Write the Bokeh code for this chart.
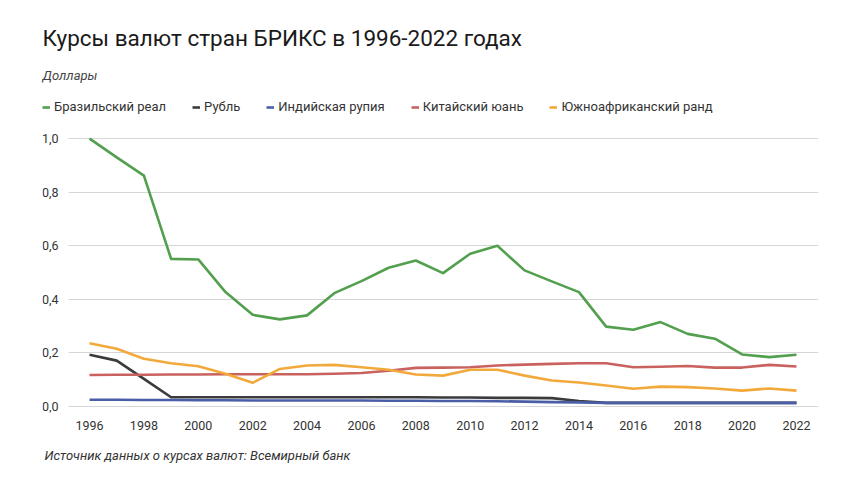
from bokeh.plotting import figure
from bokeh.models import (Range1d, FixedTicker, CustomJSTickFormatter, Title,
                          Legend, LegendItem, ColumnDataSource)
from bokeh.embed import file_html
from bokeh.resources import INLINE

years = list(range(1996, 2023))

brl = [1.00, 0.93, 0.862, 0.551, 0.549, 0.427, 0.342, 0.325, 0.340, 0.423,
       0.468, 0.518, 0.545, 0.498, 0.570, 0.600, 0.508, 0.467, 0.427, 0.298,
       0.286, 0.315, 0.271, 0.253, 0.194, 0.184, 0.193]
rub = [0.193, 0.171, 0.103, 0.034, 0.034, 0.034, 0.034, 0.034, 0.034, 0.034,
       0.034, 0.034, 0.034, 0.033, 0.033, 0.032, 0.032, 0.031, 0.020, 0.013,
       0.013, 0.013, 0.013, 0.013, 0.013, 0.013, 0.013]
inr = [0.025, 0.025, 0.024, 0.024, 0.023, 0.023, 0.022, 0.022, 0.022, 0.022,
       0.022, 0.021, 0.021, 0.020, 0.020, 0.019, 0.018, 0.016, 0.015, 0.013,
       0.013, 0.013, 0.013, 0.013, 0.013, 0.013, 0.013]
cny = [0.117, 0.118, 0.118, 0.119, 0.119, 0.120, 0.120, 0.120, 0.120, 0.122,
       0.125, 0.133, 0.144, 0.145, 0.146, 0.153, 0.156, 0.159, 0.161, 0.161,
       0.146, 0.148, 0.151, 0.145, 0.145, 0.155, 0.149]
zar = [0.236, 0.215, 0.178, 0.161, 0.150, 0.122, 0.088, 0.140, 0.153, 0.155,
       0.146, 0.137, 0.119, 0.115, 0.137, 0.137, 0.115, 0.097, 0.089, 0.078,
       0.066, 0.074, 0.072, 0.067, 0.059, 0.067, 0.059]

series_names = ["Бразильский реал", "Рубль", "Индийская рупия",
                "Китайский юань", "Южноафриканский ранд"]
series_values = [brl, rub, inr, cny, zar]
series_colors = ["#52a04e", "#3b3b3d", "#4a5ea8", "#c9625f", "#f2a93b"]

x_ticks = list(range(1996, 2023, 2))
y_ticks = [0.0, 0.2, 0.4, 0.6, 0.8, 1.0]

title_text = "Курсы валют стран БРИКС в 1996-2022 годах"
unit_text = "Доллары"
source_text = "Источник данных о курсах валют: Всемирный банк"

FONT = "Roboto"

# layout constants (axis extents in data units)
X_START, X_END = 1994.27, 2022.81
Y_START, Y_END = -0.0228, 1.1464
GRID_X0 = 1995.23

p = figure(width=860, height=484, output_backend="svg", toolbar_location=None,
           x_range=Range1d(X_START, X_END), y_range=Range1d(Y_START, Y_END),
           min_border_left=42, min_border_right=42, min_border_top=99,
           min_border_bottom=72, title=None)
p.outline_line_color = None
p.background_fill_color = "white"
p.border_fill_color = "white"

p.xgrid.grid_line_color = None
grid = p.ygrid[0]
if "cross_bounds" in grid.properties():
    grid.cross_bounds = (GRID_X0, X_END)
    grid.grid_line_color = "#d6d6d6"
    grid.grid_line_width = 1
    grid.ticker = FixedTicker(ticks=y_ticks)
else:
    grid.grid_line_color = None
    p.segment(x0=[GRID_X0] * len(y_ticks), x1=[X_END] * len(y_ticks),
              y0=y_ticks, y1=y_ticks, line_color="#d6d6d6", line_width=1)

for ax in (p.xaxis[0], p.yaxis[0]):
    ax.axis_line_color = None
    ax.major_tick_line_color = None
    ax.minor_tick_line_color = None
    ax.major_label_text_font = FONT
    ax.major_label_text_color = "#333333"
    ax.major_label_text_font_size = "12.5px"

p.xaxis.ticker = FixedTicker(ticks=x_ticks)
p.xaxis.major_label_standoff = 2
p.yaxis.ticker = FixedTicker(ticks=y_ticks)
p.yaxis.formatter = CustomJSTickFormatter(code="return tick.toFixed(1).replace('.', ',');")
p.yaxis.fixed_location = GRID_X0
p.yaxis.major_label_standoff = 4

items = []
for name, vals, col in zip(series_names, series_values, series_colors):
    src = ColumnDataSource(dict(x=years, y=vals))
    r = p.line("x", "y", source=src, line_color=col, line_width=2.6,
               line_join="round")
    items.append(LegendItem(label=name, renderers=[r]))

legend = Legend(items=items, orientation="horizontal", location="top_left",
                label_text_font=FONT, label_text_font_size="13px",
                label_text_color="#333333", glyph_width=8, glyph_height=12,
                label_standoff=4, spacing=26, padding=2, margin=0,
                border_line_color=None, background_fill_alpha=0,
                label_height=12)
p.add_layout(legend, "center")

p.add_layout(Title(text=unit_text, align="left", offset=0, standoff=34,
                   text_font=FONT, text_font_size="13px",
                   text_font_style="italic", text_color="#444444"), "above")
p.add_layout(Title(text=title_text, align="left", offset=0, standoff=-5,
                   text_font=FONT, text_font_size="22.5px",
                   text_font_style="normal", text_color="#1a1a1a"), "above")
p.add_layout(Title(text=source_text, align="left", offset=2, standoff=27,
                   text_font=FONT, text_font_size="13px",
                   text_font_style="italic", text_color="#333333"), "below")

open("out.html", "w").write(file_html(p, INLINE))
